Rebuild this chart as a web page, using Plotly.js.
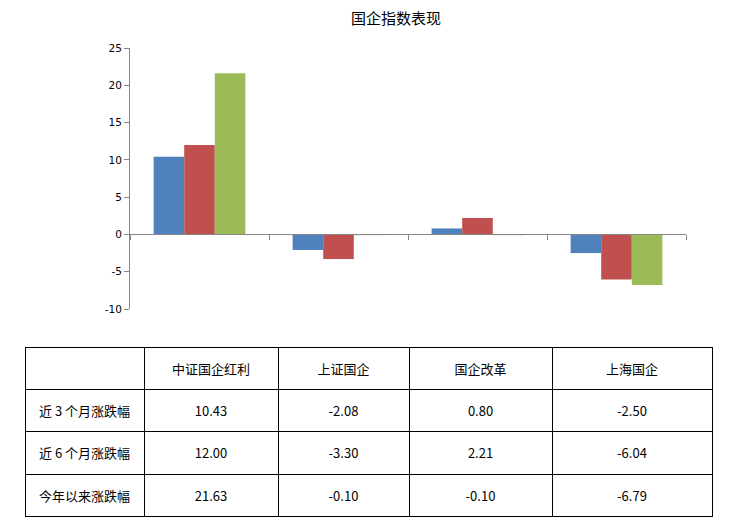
<!DOCTYPE html>
<html><head><meta charset="utf-8">
<script src="https://cdn.plot.ly/plotly-3.0.1.min.js"></script>
<style>html,body{margin:0;padding:0;background:#fff;}#chart{width:744px;height:530px;}</style>
</head><body><div id="chart"></div>
<script>
var categories = ["中证国企红利", "上证国企", "国企改革", "上海国企"];
var seriesNames = ["近 3 个月涨跌幅", "近 6 个月涨跌幅", "今年以来涨跌幅"];
var s3m = [10.43, -2.08, 0.80, -2.50];
var s6m = [12.00, -3.30, 2.21, -6.04];
var sYtd = [21.63, -0.10, -0.10, -6.79];
var yTicks = [-10, -5, 0, 5, 10, 15, 20, 25];
var colors = ["#4F81BD", "#C0504D", "#9BBB59"];

var W = 744, H = 530;
var yMin = -10, yMax = 25;
var yDom = [1 - 309 / H, 1 - 48 / H];
var zeroPos = yDom[0] + (0 - yMin) / (yMax - yMin) * (yDom[1] - yDom[0]);
var cjk = "'Noto Sans CJK SC', 'Noto Sans', sans-serif";

var data = [s3m, s6m, sYtd].map(function (v, i) {
  return {type: "bar", x: categories, y: v, name: seriesNames[i],
    marker: {color: colors[i], line: {width: 0}}, hoverinfo: "none",
    xaxis: "x", yaxis: "y"};
});

function fmt(v) { return v.toFixed(2); }
var headerValues = [""].concat(categories);
var tableValues = [seriesNames].concat(categories.map(function (c, j) {
  return [fmt(s3m[j]), fmt(s6m[j]), fmt(sYtd[j])];
}));
var colW = [119, 134, 131, 143, 160];
var tTop = 347, tBot = 517, shift = 9;

// grid (borders only)
data.push({
  type: "table",
  domain: {x: [25 / W, 712 / W], y: [1 - tBot / H, 1 - tTop / H]},
  columnwidth: colW,
  header: {values: headerValues.map(function () { return ""; }), height: 42,
    line: {color: "#000", width: 1}, fill: {color: "#fff"}},
  cells: {values: tableValues.map(function (col) { return col.map(function () { return ""; }); }), height: 42.5,
    line: {color: "#000", width: 1}, fill: {color: "#fff"}}
});
// text layer, shifted down to center text vertically in cells
data.push({
  type: "table",
  domain: {x: [25 / W, 712 / W], y: [1 - (tBot + shift) / H, 1 - (tTop + shift) / H]},
  columnwidth: colW,
  header: {values: headerValues, height: 42,
    align: "center", line: {color: "rgba(0,0,0,0)", width: 0}, fill: {color: "rgba(0,0,0,0)"},
    font: {family: cjk, size: 13, color: "#000"}},
  cells: {values: tableValues, height: 42.5,
    align: "center", line: {color: "rgba(0,0,0,0)", width: 0}, fill: {color: "rgba(0,0,0,0)"},
    font: {family: cjk, size: 13, color: "#000"}}
});

var layout = {
  width: W, height: H,
  margin: {l: 0, r: 0, t: 0, b: 0},
  paper_bgcolor: "#fff", plot_bgcolor: "rgba(0,0,0,0)",
  showlegend: false,
  barmode: "group", bargap: 0.34, bargroupgap: 0,
  title: {text: "国企指数表现", x: 396 / W, xanchor: "center", y: 1 - 19 / H, yanchor: "middle",
    font: {family: cjk, size: 15, color: "#000"}},
  xaxis: {domain: [130 / W, 686 / W], anchor: "free", position: zeroPos,
    showticklabels: false, showgrid: false, zeroline: false,
    showline: true, linecolor: "#868686", linewidth: 1,
    ticks: "outside", tickson: "boundaries", ticklen: 5, tickcolor: "#868686", tickwidth: 1},
  yaxis: {domain: yDom, range: [yMin, yMax], tickmode: "array", tickvals: yTicks,
    ticktext: yTicks.map(function (t) { return String(t); }),
    showgrid: false, zeroline: false,
    showline: true, linecolor: "#868686", linewidth: 1,
    ticks: "outside", ticklen: 5, tickcolor: "#868686",
    tickfont: {family: "'DejaVu Sans', Verdana, sans-serif", size: 10.5, color: "#000"}}
};

Plotly.newPlot("chart", data, layout, {staticPlot: true, displayModeBar: false});
</script></body></html>
